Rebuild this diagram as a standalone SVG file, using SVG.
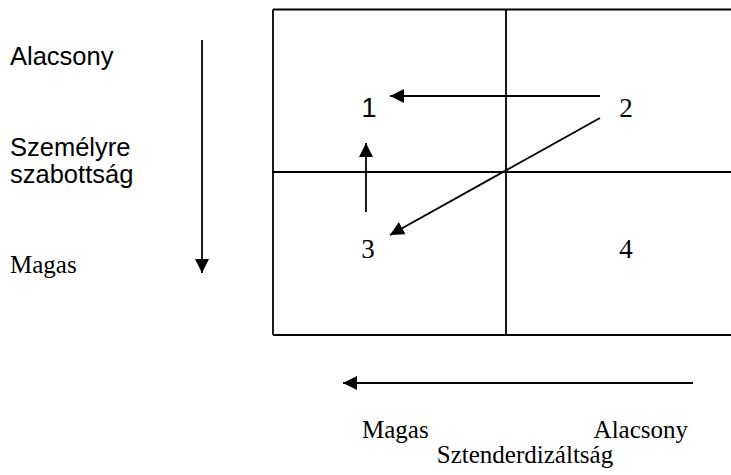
<svg xmlns="http://www.w3.org/2000/svg" width="731" height="475" viewBox="0 0 731 475">
<style>
.ln{stroke:#000;stroke-width:1.8;fill:none}
.ar{stroke:#000;stroke-width:1.8;fill:none;marker-end:url(#ah)}
.sans{font-family:"Liberation Sans",Arial,sans-serif;font-size:25.5px;fill:#000}
.serif{font-family:"Liberation Serif","Times New Roman",serif;font-size:25px;fill:#000}
.num{font-size:27px}
</style>
<defs>
<marker id="ah" markerUnits="userSpaceOnUse" markerWidth="16" markerHeight="16" refX="14" refY="7" orient="auto">
<path d="M0,0 L14,7 L0,14 Z" fill="#000"/>
</marker>
</defs>
<g id="grid">
<path class="ln" d="M273,9.5 H735 M273,9.5 V335 M273,335 H735 M506,9.5 V335 M273,172 H735"/>
</g>
<g id="node1"><text class="sans num" x="369" y="117" text-anchor="middle">1</text></g>
<g id="node2"><text class="serif num" x="626" y="117" text-anchor="middle">2</text></g>
<g id="node3"><text class="serif num" x="368" y="258" text-anchor="middle">3</text></g>
<g id="node4"><text class="serif num" x="626" y="258" text-anchor="middle">4</text></g>
<g id="labels">
<text class="sans" x="10" y="65">Alacsony</text>
<text class="sans" x="10" y="156">Személyre</text>
<text class="sans" x="10" y="183">szabottság</text>
<text class="serif" x="10" y="273">Magas</text>
<text class="serif" x="362" y="438">Magas</text>
<text class="serif" x="688" y="438" text-anchor="end">Alacsony</text>
<text class="serif" x="525" y="463" text-anchor="middle">Sztenderdizáltság</text>
</g>
<g id="connectors">
<line class="ar" x1="600" y1="96" x2="390" y2="96"/>
<line class="ar" x1="600" y1="118" x2="390" y2="235"/>
<line class="ar" x1="366" y1="212" x2="366" y2="143"/>
<line class="ar" x1="202" y1="40" x2="202" y2="273"/>
<line class="ar" x1="693" y1="383" x2="343" y2="383"/>
</g>
</svg>
